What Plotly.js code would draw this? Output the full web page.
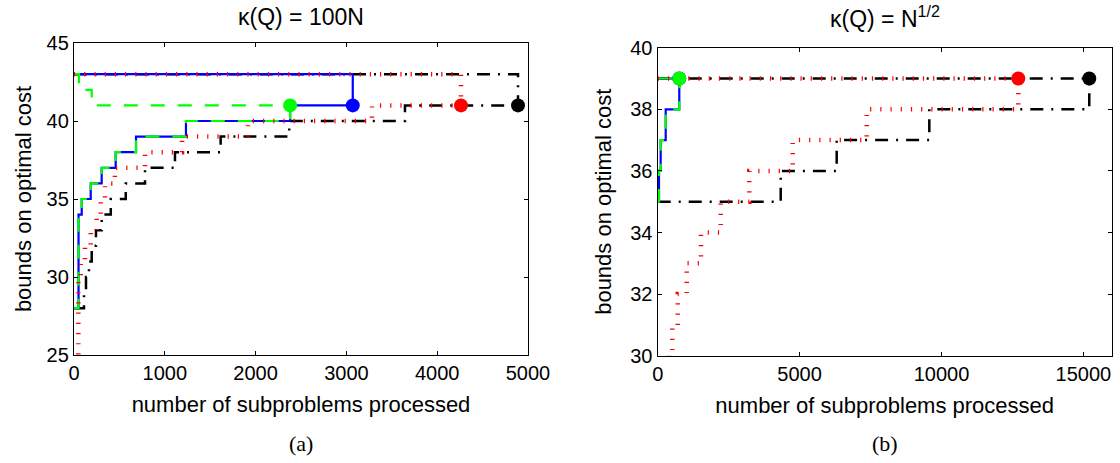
<!DOCTYPE html>
<html>
<head>
<meta charset="utf-8">
<script src="https://cdn.plot.ly/plotly-3.0.1.min.js"></script>
<style>html,body{margin:0;padding:0;background:#fff;}#chart{width:1120px;height:463px;}</style>
</head>
<body>
<div id="chart"></div>
<script>
// ---------- (a) kappa(Q) = 100N ----------
const aBlueUpX  = [0, 3070];
const aBlueUpY  = [43, 41];
const aBlueLoX  = [0, 50, 85, 184, 305, 459, 683, 1233, 2380, 3070];
const aBlueLoY  = [28, 34, 35, 36, 37, 38, 39, 40, 41, 41];
const aGreenUpX = [0, 55, 195, 2380];
const aGreenUpY = [43, 42, 41, 41];
const aGreenLoX = [0, 50, 85, 184, 305, 459, 683, 1233, 2380];
const aGreenLoY = [28, 34, 35, 36, 37, 38, 39, 40, 41];
const aRedUpX   = [0, 4262];
const aRedUpY   = [43, 41];
const aRedLoX   = [0, 48, 74, 121, 184, 250, 294, 341, 451, 782, 1190, 1916, 3282, 4262];
const aRedLoY   = [24, 30, 31, 32, 33, 34, 35, 36, 37, 38, 39, 40, 41, 41];
const aBlackUpX = [0, 4890];
const aBlackUpY = [43, 41];
const aBlackLoX = [0, 110, 132, 165, 195, 242, 305, 405, 570, 782, 1112, 1615, 2370, 3645, 4890];
const aBlackLoY = [28, 29, 30, 31, 32, 33, 34, 35, 36, 37, 38, 39, 40, 41, 41];
const aEndX     = [3070, 2380, 4262, 4890];   // blue, green, red, black
const aEndY     = [41, 41, 41, 41];

// ---------- (b) kappa(Q) = N^(1/2) ----------
const bBlueUpX  = [0, 761];
const bBlueUpY  = [39, 39];
const bBlueLoX  = [0, 46, 105, 282, 761];
const bBlueLoY  = [35, 36, 37, 38, 39];
const bGreenUpX = [0, 761];
const bGreenUpY = [39, 39];
const bGreenLoX = [0, 46, 105, 282, 761];
const bGreenLoY = [35, 36, 37, 38, 39];
const bRedUpX   = [0, 12708];
const bRedUpY   = [39, 39];
const bRedLoX   = [0, 398, 515, 705, 1022, 1526, 2220, 3228, 4758, 7366, 12708];
const bRedLoY   = [29, 30, 31, 32, 33, 34, 35, 36, 37, 38, 39];
const bBlackUpX = [0, 15210];
const bBlackUpY = [39, 39];
const bBlackLoX = [0, 4335, 6308, 9572, 15210];
const bBlackLoY = [35, 36, 37, 38, 39];
const bEndX     = [761, 761, 12708, 15210];   // blue, green, red, black
const bEndY     = [39, 39, 39, 39];

const titleA = "κ(Q) = 100N";
const titleB = "κ(Q) = N<sup>1/2</sup>";
const xTitle = "number of subproblems processed";
const yTitle = "bounds on optimal cost";
const captionA = "(a)";
const captionB = "(b)";
const xTicksA = [0, 1000, 2000, 3000, 4000, 5000];
const xLabelsA = ["0", "1000", "2000", "3000", "4000", "5000"];
const yTicksA = [25, 30, 35, 40, 45];
const xTicksB = [0, 5000, 10000, 15000];
const xLabelsB = ["0", "5000", "10000", "15000"];
const yTicksB = [30, 32, 34, 36, 38, 40];

const styles = {
  black: {color: '#000000', width: 2.5, dash: '13px,8px,2px,8px'},
  blue:  {color: '#0000ff', width: 2.2, dash: 'solid'},
  green: {color: '#00ff00', width: 2.2, dash: '14px,13px'},
  red:   {color: '#ff0000', width: 4.5, dash: '1.2px,9px'}
};
const endColors = ['#0000ff', '#00ff00', '#ff0000', '#000000'];

function stair(x, y, st, xa, ya) {
  return {x: x, y: y, xaxis: xa, yaxis: ya, type: 'scatter', mode: 'lines',
          line: {shape: 'hv', color: st.color, width: st.width, dash: st.dash},
          showlegend: false, hoverinfo: 'skip'};
}
function ends(x, y, xa, ya) {
  return {x: x, y: y, xaxis: xa, yaxis: ya, type: 'scatter', mode: 'markers',
          marker: {size: 14, color: endColors, line: {width: 0}},
          showlegend: false, hoverinfo: 'skip', cliponaxis: false};
}

const data = [
  stair(aBlackUpX, aBlackUpY, styles.black, 'x', 'y'),
  stair(aBlackLoX, aBlackLoY, styles.black, 'x', 'y'),
  stair(aBlueUpX, aBlueUpY, styles.blue, 'x', 'y'),
  stair(aBlueLoX, aBlueLoY, styles.blue, 'x', 'y'),
  stair(aGreenUpX, aGreenUpY, styles.green, 'x', 'y'),
  stair(aGreenLoX, aGreenLoY, styles.green, 'x', 'y'),
  stair(aRedUpX, aRedUpY, styles.red, 'x', 'y'),
  stair(aRedLoX, aRedLoY, styles.red, 'x', 'y'),
  ends(aEndX, aEndY, 'x', 'y'),
  stair(bBlackUpX, bBlackUpY, styles.black, 'x2', 'y2'),
  stair(bBlackLoX, bBlackLoY, styles.black, 'x2', 'y2'),
  stair(bBlueUpX, bBlueUpY, styles.blue, 'x2', 'y2'),
  stair(bBlueLoX, bBlueLoY, styles.blue, 'x2', 'y2'),
  stair(bGreenUpX, bGreenUpY, styles.green, 'x2', 'y2'),
  stair(bGreenLoX, bGreenLoY, styles.green, 'x2', 'y2'),
  stair(bRedUpX, bRedUpY, styles.red, 'x2', 'y2'),
  stair(bRedLoX, bRedLoY, styles.red, 'x2', 'y2'),
  ends(bEndX, bEndY, 'x2', 'y2')
];

const FONT = 'Liberation Sans, Arial, Helvetica, sans-serif';
const SERIF = 'Liberation Serif, DejaVu Serif, serif';
const tickFont = {family: FONT, size: 20, color: '#000'};
const titleFont = {family: FONT, size: 22, color: '#000'};

function axisCommon() {
  return {showline: true, linecolor: '#000', linewidth: 1.2, mirror: 'ticks',
          ticks: 'inside', ticklen: 4, tickwidth: 1, tickcolor: '#000',
          showgrid: false, zeroline: false, tickfont: tickFont, fixedrange: true};
}

const layout = {
  width: 1120, height: 463,
  margin: {l: 0, r: 0, t: 0, b: 0},
  paper_bgcolor: '#fff', plot_bgcolor: '#fff',
  font: {family: FONT, color: '#000'},
  xaxis: Object.assign(axisCommon(), {domain: [74/1120, 528/1120], range: [0, 5000],
          tickmode: 'array', tickvals: xTicksA, ticktext: xLabelsA, anchor: 'y',
          title: {text: xTitle, font: titleFont, standoff: 13}}),
  yaxis: Object.assign(axisCommon(), {domain: [(463-355)/463, (463-43)/463], range: [25, 45],
          tickmode: 'array', tickvals: yTicksA, ticktext: yTicksA.map(String), anchor: 'x',
          title: {text: yTitle, font: titleFont, standoff: 8}}),
  xaxis2: Object.assign(axisCommon(), {domain: [657.7/1120, 1111.7/1120], range: [0, 16000],
          tickmode: 'array', tickvals: xTicksB, ticktext: xLabelsB, anchor: 'y2',
          title: {text: xTitle, font: titleFont, standoff: 13}}),
  yaxis2: Object.assign(axisCommon(), {domain: [(463-355.7)/463, (463-47.7)/463], range: [30, 40],
          tickmode: 'array', tickvals: yTicksB, ticktext: yTicksB.map(String), anchor: 'x2',
          title: {text: yTitle, font: titleFont, standoff: 12}}),
  annotations: [
    {text: titleA, xref: 'paper', yref: 'paper', x: 301/1120, y: 1 - 17/463,
     xanchor: 'center', yanchor: 'middle', showarrow: false, font: {family: FONT, size: 23, color: '#000'}},
    {text: titleB, xref: 'paper', yref: 'paper', x: 884.7/1120, y: 1 - 17/463,
     xanchor: 'center', yanchor: 'middle', showarrow: false, font: {family: FONT, size: 23, color: '#000'}},
    {text: captionA, xref: 'paper', yref: 'paper', x: 301/1120, y: 1 - 443/463,
     xanchor: 'center', yanchor: 'middle', showarrow: false, font: {family: SERIF, size: 22, color: '#000'}},
    {text: captionB, xref: 'paper', yref: 'paper', x: 884.7/1120, y: 1 - 443/463,
     xanchor: 'center', yanchor: 'middle', showarrow: false, font: {family: SERIF, size: 22, color: '#000'}}
  ]
};

Plotly.newPlot('chart', data, layout, {staticPlot: true, displayModeBar: false});
</script>
</body>
</html>
